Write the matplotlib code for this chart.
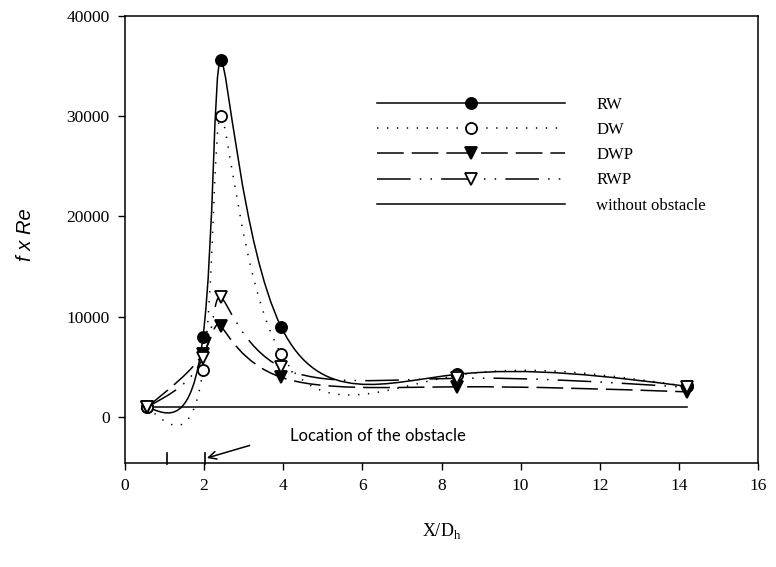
import numpy as np
import matplotlib.pyplot as plt
from matplotlib.path import Path
from matplotlib.patches import PathPatch
from matplotlib.lines import Line2D

plt.rcParams['font.family'] = ['Liberation Serif', 'DejaVu Serif']
plt.rcParams['mathtext.fontset'] = 'custom'
plt.rcParams['mathtext.rm'] = 'Liberation Serif'

# measured positions X/Dh and f x Re values
x_pos = [0.56, 1.97, 2.42, 3.95, 8.4, 14.2]
rw = [1000, 7950, 35600, 8950, 4250, 3050]
dw = [1000, 4650, 30000, 6250, 4150, 3050]
dwp = [1000, 6300, 9050, 3950, 3000, 2500]
rwp = [1000, 5900, 11950, 4950, 3850, 2950]
no_obstacle = [1000, 1000]
no_obstacle_x = [0.56, 14.2]
obstacle_x = [1.05, 2.03]

labels = ['RW', 'DW', 'DWP', 'RWP', 'without obstacle']


def spline_path(xs, ys):
    # natural parametric cubic spline (uniform parameter) as bezier segments
    pts = np.column_stack([xs, ys]).astype(float)
    n = len(pts)
    A = np.zeros((n, n))
    rhs = np.zeros((n, 2))
    A[0, 0], A[0, 1] = 2, 1
    rhs[0] = 3 * (pts[1] - pts[0])
    for i in range(1, n - 1):
        A[i, i - 1], A[i, i], A[i, i + 1] = 1, 4, 1
        rhs[i] = 3 * (pts[i + 1] - pts[i - 1])
    A[-1, -2], A[-1, -1] = 1, 2
    rhs[-1] = 3 * (pts[-1] - pts[-2])
    d = np.linalg.solve(A, rhs)
    verts = [pts[0]]
    codes = [Path.MOVETO]
    for i in range(n - 1):
        verts += [pts[i] + d[i] / 3, pts[i + 1] - d[i + 1] / 3, pts[i + 1]]
        codes += [Path.CURVE4] * 3
    return Path(verts, codes)


lw = 1.1
styles = {
    'RW': dict(ls='-', marker='o', mfc='k'),
    'DW': dict(ls=(0, (0.9, 5.6)), marker='o', mfc='white'),
    'DWP': dict(ls=(0, (17.5, 5.2)), marker='v', mfc='k'),
    'RWP': dict(ls=(0, (22, 6, 1, 6, 1, 6)), marker='v', mfc='white'),
}

fig = plt.figure(figsize=(7.76, 5.67), dpi=100)
ax = fig.add_axes([125 / 776, 1 - 463 / 567, 633 / 776, 447 / 567])

ax.plot(no_obstacle_x, no_obstacle, color='k', lw=lw, zorder=2)

series = [('RW', rw), ('DW', dw), ('DWP', dwp), ('RWP', rwp)]
for name, ys in series:
    ax.add_patch(PathPatch(spline_path(x_pos, ys), fill=False, ec='k', lw=lw,
                           ls=styles[name]['ls'], capstyle='butt', zorder=2))
for name, ys in series:
    ax.plot(x_pos, ys, ls='none', marker=styles[name]['marker'], ms=8,
            mfc=styles[name]['mfc'], mec='k', mew=1.3, zorder=3)

# obstacle location marks and note
for xo in obstacle_x:
    ax.plot([xo, xo], [-3600, -4700], color='k', lw=1.2, clip_on=False)
ax.annotate('', xy=(2.07, -4100), xytext=(3.15, -2850),
            arrowprops=dict(arrowstyle='->', color='k', lw=1.1,
                            mutation_scale=14, shrinkA=0, shrinkB=0))
ax.text(4.18, -1900, 'Location of the obstacle', family='Lato', fontsize=12,
        va='center', ha='left')

ax.set_xlim(0, 16)
ax.set_ylim(-4600, 40000)
ax.set_xticks(np.arange(0, 17, 2))
ax.set_yticks(np.arange(0, 40001, 10000))
ax.tick_params(direction='out', length=5, width=1, labelsize=12.5, pad=6,
               top=False, right=False)
for s in ax.spines.values():
    s.set_linewidth(1.1)

ax.set_xlabel(r'X/D$_\mathregular{h}$', fontsize=13)
ax.xaxis.set_label_coords(0.5, -0.13)
ax.set_ylabel('f x Re', family='Liberation Sans', style='italic', fontsize=14.5)
ax.yaxis.set_label_coords(-0.142, 0.51)

handles = []
for name in labels[:4]:
    st = styles[name]
    handles.append(Line2D([], [], color='k', lw=lw, ls=st['ls'], marker=st['marker'],
                          ms=8, mfc=st['mfc'], mec='k', mew=1.3))
handles.append(Line2D([], [], color='k', lw=lw, ls='-'))
ax.legend(handles, labels, loc='upper left', bbox_to_anchor=(377 / 776, 1 - 97 / 567),
          bbox_transform=fig.transFigure, frameon=False, fontsize=12,
          handlelength=11.26, handletextpad=1.9, labelspacing=0.55,
          borderpad=0, borderaxespad=0, numpoints=1)

fig.savefig('out.png', dpi=100)
